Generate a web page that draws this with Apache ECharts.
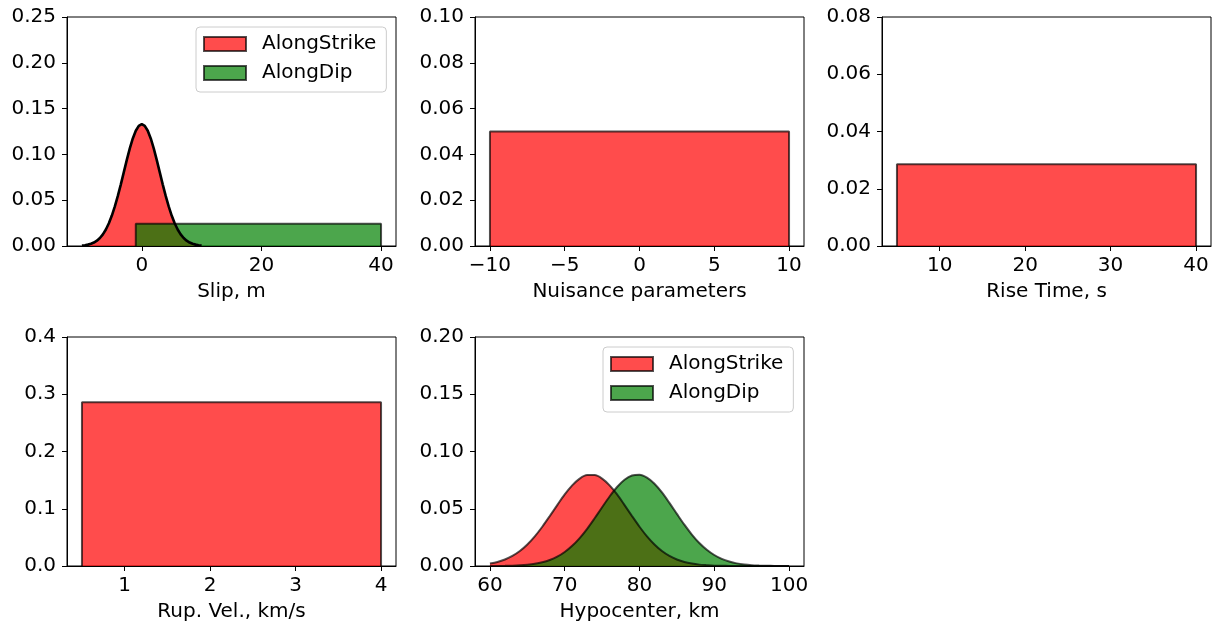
<!DOCTYPE html>
<html>
<head>
<meta charset="utf-8">
<script src="https://cdn.jsdelivr.net/npm/echarts@6/dist/echarts.min.js"></script>
<style>
  html, body { margin: 0; padding: 0; background: #fff; }
  #chart { width: 1220px; height: 630px; }
</style>
</head>
<body>
<div id="chart"></div>
<script>
// ---- Slip, m ----
const slipStrikeX = [-10, -9.5, -9, -8.5, -8, -7.5, -7, -6.5, -6, -5.5, -5, -4.5, -4, -3.5, -3, -2.5, -2, -1.5, -1, -0.5,
  0, 0.5, 1, 1.5, 2, 2.5, 3, 3.5, 4, 4.5, 5, 5.5, 6, 6.5, 7, 7.5, 8, 8.5, 9, 9.5, 10];
const slipStrikePdf = [0.0005, 0.0009, 0.0015, 0.0024, 0.0038, 0.0058, 0.0087, 0.0127, 0.0180, 0.0248, 0.0332, 0.0432,
  0.0547, 0.0673, 0.0807, 0.0940, 0.1065, 0.1174, 0.1258, 0.1311, 0.1330, 0.1311, 0.1258, 0.1174, 0.1065, 0.0940,
  0.0807, 0.0673, 0.0547, 0.0432, 0.0332, 0.0248, 0.0180, 0.0127, 0.0087, 0.0058, 0.0038, 0.0024, 0.0015, 0.0009, 0.0005];
const slipDipRange = [-1, 40];
const slipDipDensity = 0.0244;

// ---- Nuisance parameters ----
const nuisanceRange = [-10, 10];
const nuisanceDensity = 0.05;

// ---- Rise Time, s ----
const riseRange = [5, 40];
const riseDensity = 0.0286;

// ---- Rup. Vel., km/s ----
const rupVelRange = [0.5, 4];
const rupVelDensity = 0.286;

// ---- Hypocenter, km ----
const hypoX = [60, 61, 62, 63, 64, 65, 66, 67, 68, 69, 70, 71, 72, 73, 74, 75, 76, 77, 78, 79, 80,
  81, 82, 83, 84, 85, 86, 87, 88, 89, 90, 91, 92, 93, 94, 95, 96, 97, 98, 99, 100];
const hypoStrikePdf = [0.0021, 0.0035, 0.0057, 0.0088, 0.0131, 0.0188, 0.0259, 0.0343, 0.0436, 0.0532, 0.0625,
  0.0704, 0.0763, 0.0794, 0.0794, 0.0763, 0.0704, 0.0625, 0.0532, 0.0436, 0.0343, 0.0259, 0.0188, 0.0131, 0.0088,
  0.0057, 0.0035, 0.0021, 0.0012, 0.0007, 0.0003, 0.0002, 0.0001, 0, 0, 0, 0, 0, 0, 0, 0];
const hypoDipPdf = [0.00003, 0.00007, 0.00015, 0.0003, 0.0006, 0.0011, 0.0019, 0.0032, 0.0052, 0.0081, 0.0122,
  0.0176, 0.0244, 0.0325, 0.0417, 0.0513, 0.0607, 0.0690, 0.0753, 0.0790, 0.0797, 0.0771, 0.0718, 0.0642, 0.0551,
  0.0455, 0.0361, 0.0275, 0.0201, 0.0142, 0.0096, 0.0062, 0.0039, 0.0023, 0.0013, 0.0007, 0.0004, 0.0002, 0.0001,
  0.00005, 0.00002];

// ---- axis ticks ----
const slipTicks = [0, 20, 40];
const nuisanceTicks = [-10, -5, 0, 5, 10];
const riseTicks = [10, 20, 30, 40];
const rupVelTicks = [1, 2, 3, 4];
const hypoTicks = [60, 70, 80, 90, 100];

const FONT = 'DejaVu Sans';
const FS = 20;
const RED = 'rgba(255,0,0,0.7)';
const GREEN = 'rgba(0,128,0,0.7)';
const EDGE = 'rgba(0,0,0,0.68)';

const pairs = (xs, ys) => xs.map((x, i) => [x, ys[i]]);
const box = (range, h) => [[range[0], 0], [range[0], h], [range[1], h], [range[1], 0]];
const minusSign = v => String(v).replace('-', '\u2212');

const colLeft = [67, 475, 882];
const rowTop = [17, 337];
const W = 329, H = 229;

function grid(col, row) {
  return {
    left: colLeft[col], top: rowTop[row], width: W, height: H,
    show: true, borderColor: '#000', borderWidth: 1, backgroundColor: 'transparent'
  };
}

function xAxis(idx, min, max, ticks, name) {
  return {
    type: 'value', gridIndex: idx, min: min, max: max,
    name: name, nameLocation: 'middle', nameGap: 36,
    nameTextStyle: { fontFamily: FONT, fontSize: FS, color: '#000' },
    axisLine: { show: true, onZero: false, lineStyle: { color: '#000', width: 1 } },
    axisTick: { show: true, length: 5, customValues: ticks, lineStyle: { color: '#000', width: 1 } },
    axisLabel: { customValues: ticks, margin: 10, fontFamily: FONT, fontSize: FS, color: '#000',
      formatter: v => minusSign(v) },
    splitLine: { show: false }
  };
}

function yAxis(idx, max, step, digits) {
  return {
    type: 'value', gridIndex: idx, min: 0, max: max, interval: step,
    axisLine: { show: true, onZero: false, lineStyle: { color: '#000', width: 1 } },
    axisTick: { show: true, length: 5, lineStyle: { color: '#000', width: 1 } },
    axisLabel: { margin: 11, fontFamily: FONT, fontSize: FS, color: '#000',
      formatter: v => v.toFixed(digits) },
    splitLine: { show: false }
  };
}

function area(idx, name, data, fill, edgeColor, edgeWidth, smooth) {
  return {
    type: 'line', name: name, xAxisIndex: idx, yAxisIndex: idx, data: data,
    showSymbol: false, symbol: 'none', smooth: smooth || false, silent: true,
    itemStyle: { color: fill },
    lineStyle: edgeWidth > 0 ? { color: edgeColor, width: edgeWidth } : { width: 0, opacity: 0 },
    areaStyle: { color: fill, opacity: 1 }
  };
}

function legend(left, top) {
  return {
    orient: 'vertical', left: left, top: top,
    padding: [5, 10, 7, 7], itemGap: 5, itemWidth: 42, itemHeight: 14,
    backgroundColor: 'rgba(255,255,255,0.8)', borderColor: '#cccccc', borderWidth: 1, borderRadius: 4,
    selectedMode: false,
    textStyle: { fontFamily: FONT, fontSize: FS, color: '#000', lineHeight: 24, padding: [0, 0, 0, 11] },
    data: [
      { name: 'AlongStrike', icon: 'rect', itemStyle: { color: RED, borderColor: EDGE, borderWidth: 2 } },
      { name: 'AlongDip', icon: 'rect', itemStyle: { color: GREEN, borderColor: EDGE, borderWidth: 2 } }
    ]
  };
}

const chart = echarts.init(document.getElementById('chart'), null, { renderer: 'canvas' });
chart.setOption({
  animation: false,
  backgroundColor: '#fff',
  textStyle: { fontFamily: FONT },
  grid: [grid(0, 0), grid(1, 0), grid(2, 0), grid(0, 1), grid(1, 1)],
  xAxis: [
    xAxis(0, -12.5, 42.5, slipTicks, 'Slip, m'),
    xAxis(1, -11, 11, nuisanceTicks, 'Nuisance parameters'),
    xAxis(2, 3.25, 41.75, riseTicks, 'Rise Time, s'),
    xAxis(3, 0.325, 4.175, rupVelTicks, 'Rup. Vel., km/s'),
    xAxis(4, 58, 102, hypoTicks, 'Hypocenter, km')
  ],
  yAxis: [
    yAxis(0, 0.25, 0.05, 2),
    yAxis(1, 0.10, 0.02, 2),
    yAxis(2, 0.08, 0.02, 2),
    yAxis(3, 0.4, 0.1, 1),
    yAxis(4, 0.20, 0.05, 2)
  ],
  legend: [legend(196, 27), legend(603, 347)],
  series: [
    // Slip
    area(0, 'AlongStrike', pairs(slipStrikeX, slipStrikePdf), RED, EDGE, 0, false),
    area(0, 'AlongDip', box(slipDipRange, slipDipDensity), GREEN, EDGE, 2, false),
    {
      type: 'line', name: 'slipCurve', xAxisIndex: 0, yAxisIndex: 0,
      data: pairs(slipStrikeX, slipStrikePdf), showSymbol: false, symbol: 'none', silent: true,
      lineStyle: { color: '#000', width: 2.6 }, itemStyle: { color: '#000' }
    },
    // Nuisance
    area(1, 'nuisance', box(nuisanceRange, nuisanceDensity), RED, EDGE, 2, false),
    // Rise time
    area(2, 'rise', box(riseRange, riseDensity), RED, EDGE, 2, false),
    // Rupture velocity
    area(3, 'rupVel', box(rupVelRange, rupVelDensity), RED, EDGE, 2, false),
    // Hypocenter
    area(4, 'AlongStrike', pairs(hypoX, hypoStrikePdf), RED, EDGE, 2, 0.3),
    area(4, 'AlongDip', pairs(hypoX, hypoDipPdf), GREEN, EDGE, 2, 0.3)
  ]
});
</script>
</body>
</html>
